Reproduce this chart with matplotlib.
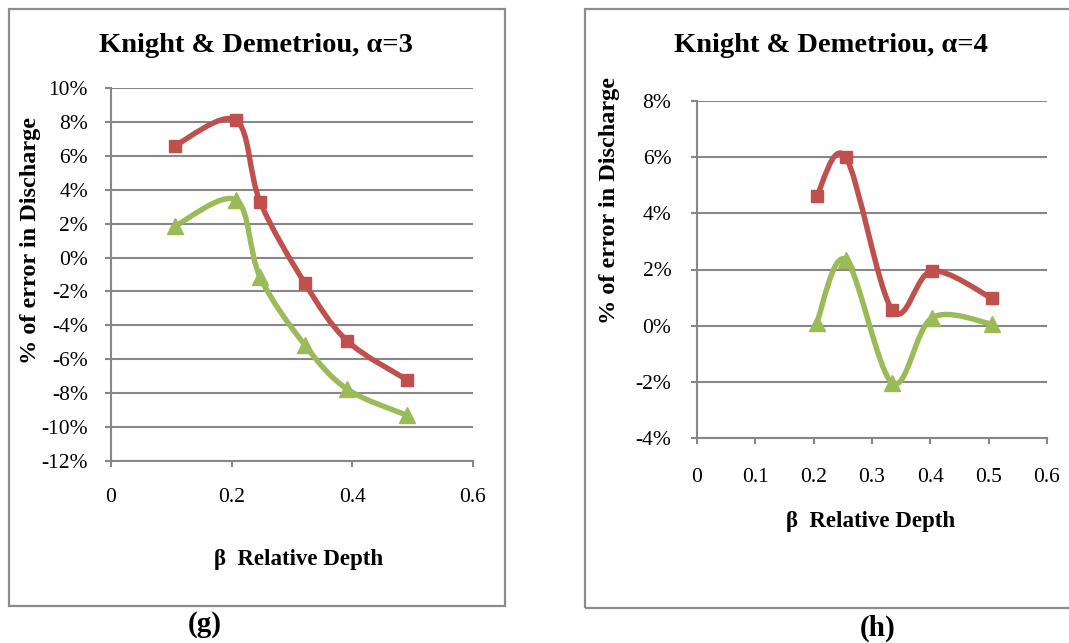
import numpy as np
import matplotlib
matplotlib.use("Agg")
import matplotlib.pyplot as plt
from matplotlib.path import Path
from matplotlib.patches import PathPatch, Rectangle
from matplotlib.ticker import FuncFormatter

plt.rcParams["font.family"] = ["Liberation Serif", "DejaVu Serif"]

# panel (g): alpha = 3
beta_g = [0.106, 0.207, 0.247, 0.321, 0.391, 0.490]
red_g = [6.6, 8.1, 3.3, -1.5, -4.9, -7.2]
green_g = [1.85, 3.4, -1.15, -5.15, -7.75, -9.3]

# panel (h): alpha = 4
beta_h = [0.205, 0.255, 0.335, 0.403, 0.505]
red_h = [4.6, 6.0, 0.55, 1.95, 0.98]
green_h = [0.08, 2.35, -2.05, 0.28, 0.06]

RED = "#C0504D"
GREEN = "#9BBB59"
GRID = "#878787"
W, H = 1069, 643


def smooth_path(xs, ys):
    # excel style smoothed line: catmull-rom as cubic bezier segments
    pts = np.column_stack([xs, ys]).astype(float)
    ext = np.vstack([pts[0], pts, pts[-1]])
    verts = [pts[0]]
    codes = [Path.MOVETO]
    for i in range(len(pts) - 1):
        p0, p1, p2, p3 = ext[i], ext[i + 1], ext[i + 2], ext[i + 3]
        verts += [p1 + (p2 - p0) / 6, p2 - (p3 - p1) / 6, p2]
        codes += [Path.CURVE4] * 3
    return Path(verts, codes)


def draw_series(ax, xs, ys, color, marker, ms):
    ax.add_patch(PathPatch(smooth_path(xs, ys), facecolor="none", edgecolor=color,
                           lw=3.9, capstyle="round", joinstyle="round", zorder=3))
    ax.plot(xs, ys, linestyle="none", marker=marker, ms=ms, color=color,
            markeredgecolor=color, zorder=4)


def style_axes(ax, yticks, xticks, ypad, xpad):
    ax.set_xlim(xticks[0], xticks[-1])
    ax.set_ylim(yticks[0], yticks[-1])
    ax.set_yticks(yticks)
    ax.set_xticks(xticks)
    ax.yaxis.set_major_formatter(FuncFormatter(lambda v, p: f"{v:g}%"))
    ax.xaxis.set_major_formatter(FuncFormatter(lambda v, p: f"{v:g}"))
    ax.grid(axis="y", color=GRID, lw=1.5)
    ax.set_axisbelow(True)
    for s in ("top", "right"):
        ax.spines[s].set_visible(False)
    for s in ("left", "bottom"):
        ax.spines[s].set_color(GRID)
        ax.spines[s].set_linewidth(1.5)
    ax.tick_params(axis="y", direction="out", length=4.5, width=1.5, color=GRID,
                   labelsize=15.5, pad=ypad)
    ax.tick_params(axis="x", direction="out", length=4.5, width=1.5, color=GRID,
                   labelsize=15.5, pad=xpad)


fig = plt.figure(figsize=(W / 100, H / 100), dpi=100)


def fx(px):
    return px / W


def fy(py):
    return 1 - py / H


# panel borders
fig.add_artist(Rectangle((fx(9), fy(606)), fx(505 - 9), (606 - 9) / H, transform=fig.transFigure,
                         facecolor="none", edgecolor="#8c8c8c", lw=1.6))
fig.add_artist(Rectangle((fx(585), fy(608)), fx(1080 - 585), (608 - 9) / H, transform=fig.transFigure,
                         facecolor="none", edgecolor="#8c8c8c", lw=1.6))

ax1 = fig.add_axes([fx(111), fy(461), fx(473 - 111), (461 - 88) / H])
draw_series(ax1, beta_g, red_g, RED, "s", 8.5)
draw_series(ax1, beta_g, green_g, GREEN, "^", 11)
style_axes(ax1, list(range(-12, 11, 2)), [0, 0.2, 0.4, 0.6], 12, 15)

ax2 = fig.add_axes([fx(697), fy(438), fx(1047 - 697), (438 - 101) / H])
draw_series(ax2, beta_h, red_h, RED, "s", 8.5)
draw_series(ax2, beta_h, green_h, GREEN, "^", 11)
style_axes(ax2, list(range(-4, 9, 2)), [0, 0.1, 0.2, 0.3, 0.4, 0.5, 0.6], 14, 17)

# titles, axis titles, panel letters
fig.text(fx(256), fy(45), "Knight & Demetriou, α=3", ha="center", va="center",
         fontsize=20.5, fontweight="bold")
fig.text(fx(831), fy(45), "Knight & Demetriou, α=4", ha="center", va="center",
         fontsize=20.5, fontweight="bold")
fig.text(fx(31), fy(241), "% of error in Discharge", rotation=90, ha="center", va="center",
         fontsize=17.5, fontweight="bold")
fig.text(fx(609), fy(200), "% of error in Discharge", rotation=90, ha="center", va="center",
         fontsize=17.5, fontweight="bold")
fig.text(fx(299), fy(560), "β  Relative Depth", ha="center", va="center",
         fontsize=16.5, fontweight="bold")
fig.text(fx(871), fy(522), "β  Relative Depth", ha="center", va="center",
         fontsize=16.5, fontweight="bold")
fig.text(fx(205), fy(624), "(g)", ha="center", va="center", fontsize=21, fontweight="bold")
fig.text(fx(878), fy(628), "(h)", ha="center", va="center", fontsize=21, fontweight="bold")

fig.savefig("out.png", dpi=100)
